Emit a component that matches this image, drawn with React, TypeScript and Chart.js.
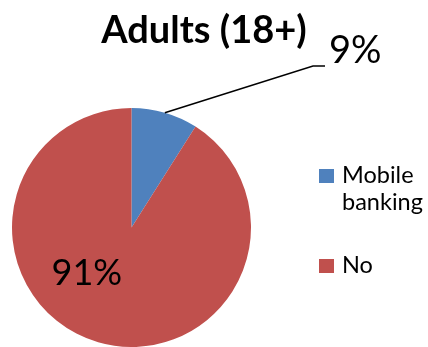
import React, { useEffect, useRef } from "react";
import { Chart, registerables } from "chart.js";

Chart.register(...registerables);

const title = "Adults (18+)";
const categories = ["Mobile banking", "No"];
const legendLines = [["Mobile", "banking"], ["No"]];
const values = [9, 91];
const labels = ["9%", "91%"];
const colors = ["#4F81BD", "#C0504D"];

const overlay = {
  id: "overlay",
  afterDraw(chart: any) {
    const ctx = chart.ctx as CanvasRenderingContext2D;
    const meta = chart.getDatasetMeta(0);
    const arc0 = meta.data[0] as any;
    const cx = arc0.x;
    const cy = arc0.y;
    const r = arc0.outerRadius;
    ctx.save();
    // title
    ctx.fillStyle = "#000";
    ctx.font = "bold 38px Lato";
    ctx.textAlign = "center";
    ctx.textBaseline = "alphabetic";
    ctx.fillText(title, 204, 43);

    // leader line for slice 0
    const mid = (arc0.startAngle + arc0.endAngle) / 2;
    const sx = cx + r * Math.cos(mid);
    const sy = cy + r * Math.sin(mid);
    ctx.strokeStyle = "#000";
    ctx.lineWidth = 1.5;
    ctx.beginPath();
    ctx.moveTo(sx, sy);
    ctx.lineTo(313, 66);
    ctx.lineTo(325, 66);
    ctx.stroke();
    ctx.font = "38px Lato";
    ctx.textAlign = "left";
    ctx.fillText(labels[0], 329, 63);

    // inside label slice 1
    ctx.font = "36px Lato";
    ctx.textAlign = "center";
    ctx.fillText(labels[1], cx - r * 0.374, cy + r * 0.48);

    // legend
    const legY = [169, 259];
    ctx.font = "23.5px Lato";
    ctx.textAlign = "left";
    legendLines.forEach((lines, i) => {
      ctx.fillStyle = colors[i];
      ctx.fillRect(319, legY[i], 15, 14);
      ctx.fillStyle = "#000";
      lines.forEach((t, j) => {
        ctx.fillText(t, 342, legY[i] + 14 + j * 27);
      });
    });
    ctx.restore();
  },
};

export default function App() {
  const ref = useRef<HTMLCanvasElement>(null);
  useEffect(() => {
    document.body.style.margin = "0";
    const chart = new Chart(ref.current as HTMLCanvasElement, {
      type: "pie",
      data: {
        labels: categories,
        datasets: [
          {
            data: values,
            backgroundColor: colors,
            borderWidth: 0,
          },
        ],
      },
      options: {
        animation: false,
        responsive: false,
        maintainAspectRatio: false,
        layout: { padding: { left: 12, right: 177, top: 108, bottom: 0 } },
        plugins: {
          legend: { display: false },
          tooltip: { enabled: false },
          title: { display: false },
        },
      },
      plugins: [overlay],
    });
    return () => chart.destroy();
  }, []);
  return (
    <div style={{ position: "absolute", left: 0, top: 0, width: 428, height: 347, background: "#fff" }}>
      <canvas ref={ref} width={428} height={347} />
    </div>
  );
}
